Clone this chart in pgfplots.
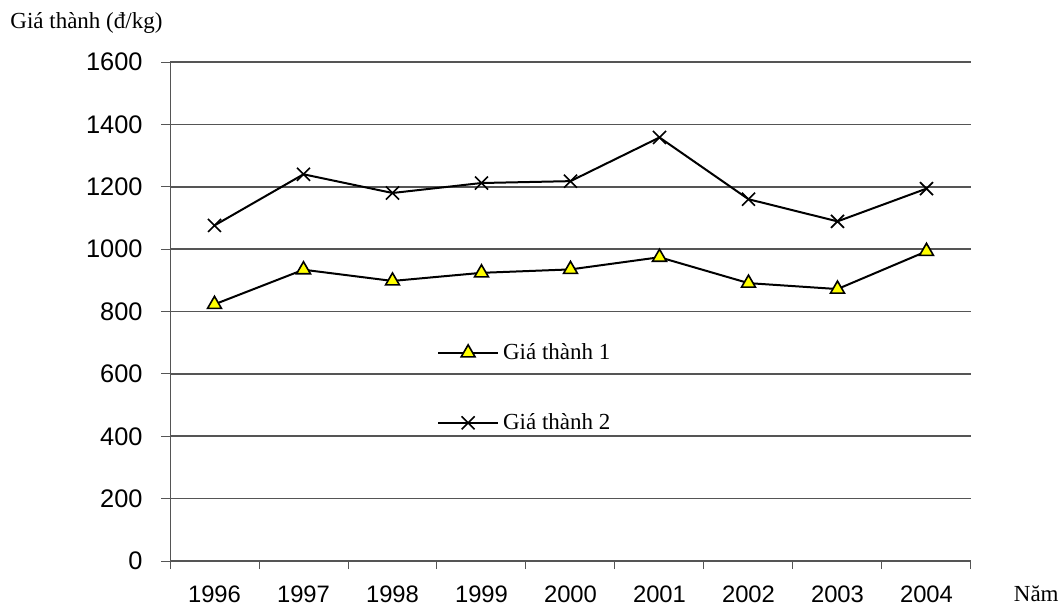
\documentclass[border=0pt]{standalone}
\usepackage{pgfplots}
\pgfplotsset{compat=1.18}
\usepackage{fontspec}
\setmainfont{Liberation Serif}
\newfontfamily\arial{Liberation Sans}
\definecolor{gridc}{RGB}{85,85,85}
\definecolor{triy}{RGB}{255,255,0}
\begin{document}
\begin{tikzpicture}[x=1pt,y=1pt]
\path[use as bounding box] (0,0) rectangle (530,303.5);
\begin{axis}[
  at={(85pt,23pt)}, anchor=south west,
  scale only axis, width=400.5pt, height=249.5pt,
  xmin=-0.5, xmax=8.5, ymin=0, ymax=1600,
  axis lines*=left,
  axis line style={gridc, line width=0.5pt},
  xtick={0,...,8},
  xticklabels={1996,1997,1998,1999,2000,2001,2002,2003,2004},
  minor xtick={-0.5,0.5,...,8.5},
  ytick={0,200,...,1600},
  ymajorgrids,
  major grid style={gridc, line width=0.8pt},
  tick align=outside,
  major x tick style={draw=none},
  minor x tick style={gridc, line width=0.5pt},
  minor tick length=4pt,
  major tick length=4.5pt,
  y tick style={gridc, line width=0.5pt},
  /pgf/number format/assume math mode=true,
  /pgf/number format/1000 sep={},
  yticklabel style={font=\arial\fontsize{12.7}{14}\selectfont, inner sep=0pt, anchor=east, xshift=-9pt},
  xticklabel style={font=\arial\fontsize{11.9}{14}\selectfont, inner sep=0pt, anchor=north, yshift=-7.5pt},
  legend style={draw=none, fill=none, at={(0.333,0.445)}, anchor=north west,
    font=\fontsize{11.5}{13}\selectfont, row sep=21.5pt, inner sep=0pt,
    legend cell align=left},
  legend image code/.code={\draw[#1, mark repeat=2, mark phase=2] plot coordinates {(0pt,0pt) (15pt,0pt) (30pt,0pt)};},
  clip=false,
]
\addplot[black, line width=1pt, mark=triangle*, mark size=4pt,
  mark options={fill=triy, draw=black, line width=0.8pt}]
  coordinates {(0,823) (1,934) (2,898) (3,924) (4,935) (5,974) (6,891) (7,872) (8,993)};
\addlegendentry{Giá thành 1}
\addplot[black, line width=1pt, mark=x, mark size=4.6pt,
  mark options={line width=0.8pt}]
  coordinates {(0,1076) (1,1240) (2,1180) (3,1212) (4,1218) (5,1358) (6,1160) (7,1089) (8,1194)};
\addlegendentry{Giá thành 2}
\end{axis}
\node[anchor=west, inner sep=0pt, font=\fontsize{11.5}{13}\selectfont] at (5,292) {Giá thành (đ/kg)};
\node[anchor=east, inner sep=0pt, font=\fontsize{11.5}{13}\selectfont] at (529.5,6.5) {Năm};
\end{tikzpicture}
\end{document}
